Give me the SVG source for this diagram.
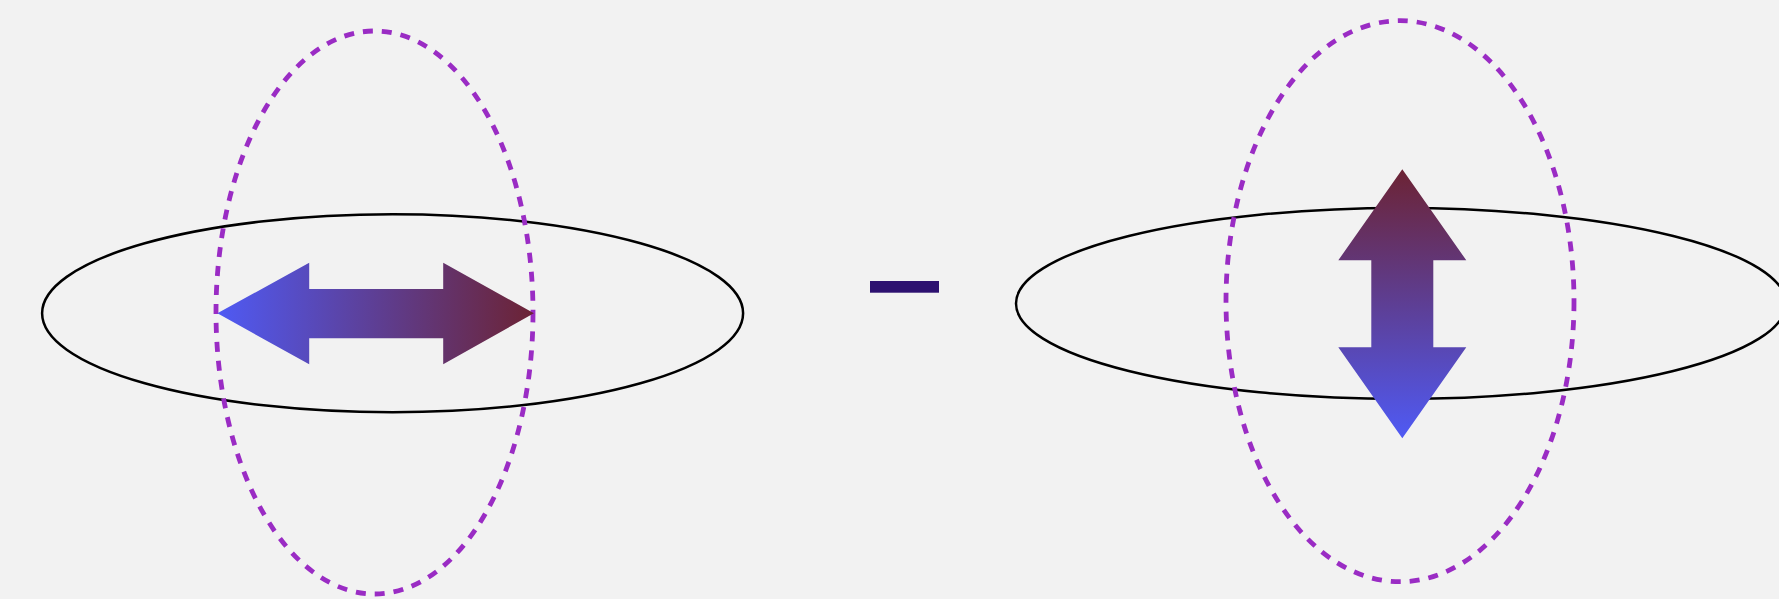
<svg xmlns="http://www.w3.org/2000/svg" width="1779" height="599" viewBox="0 0 1779 599">
<defs>
<linearGradient id="gh" x1="0" y1="0" x2="1" y2="0">
<stop offset="0" stop-color="#4F5AF4"/>
<stop offset="1" stop-color="#6C2334"/>
</linearGradient>
<linearGradient id="gv" x1="0" y1="1" x2="0" y2="0">
<stop offset="0" stop-color="#4F5AF4"/>
<stop offset="1" stop-color="#6C2334"/>
</linearGradient>
<style>
.orbit{fill:none;stroke:#000;stroke-width:2.5}
.dash{fill:none;stroke:#9A2CC4;stroke-width:4.8;stroke-dasharray:10 9}
</style>
</defs>
<rect width="1779" height="599" fill="#F2F2F2"/>
<g id="left">
<ellipse class="orbit" cx="392.6" cy="313.3" rx="350.5" ry="99"/>
<ellipse class="dash" cx="374.5" cy="312.5" rx="158.5" ry="281.5"/>
<polygon fill="url(#gh)" points="217.4,313.3 309.2,262.7 309.2,289 443.2,289 443.2,262.7 533.9,313.3 443.2,364.3 443.2,338.3 309.2,338.3 309.2,364.3"/>
</g>
<g id="minus">
<rect x="870" y="281" width="69" height="11.7" fill="#2D1170"/>
</g>
<g id="right">
<ellipse class="orbit" cx="1401" cy="303.5" rx="385" ry="95.5"/>
<ellipse class="dash" cx="1400" cy="301.2" rx="174" ry="280.5"/>
<polygon fill="url(#gv)" points="1402.3,169.3 1466.3,260.3 1433.3,260.3 1433.3,347.3 1466.3,347.3 1402.3,438.3 1338.3,347.3 1371.3,347.3 1371.3,260.3 1338.3,260.3"/>
</g>
<g id="connectors"/>
</svg>
